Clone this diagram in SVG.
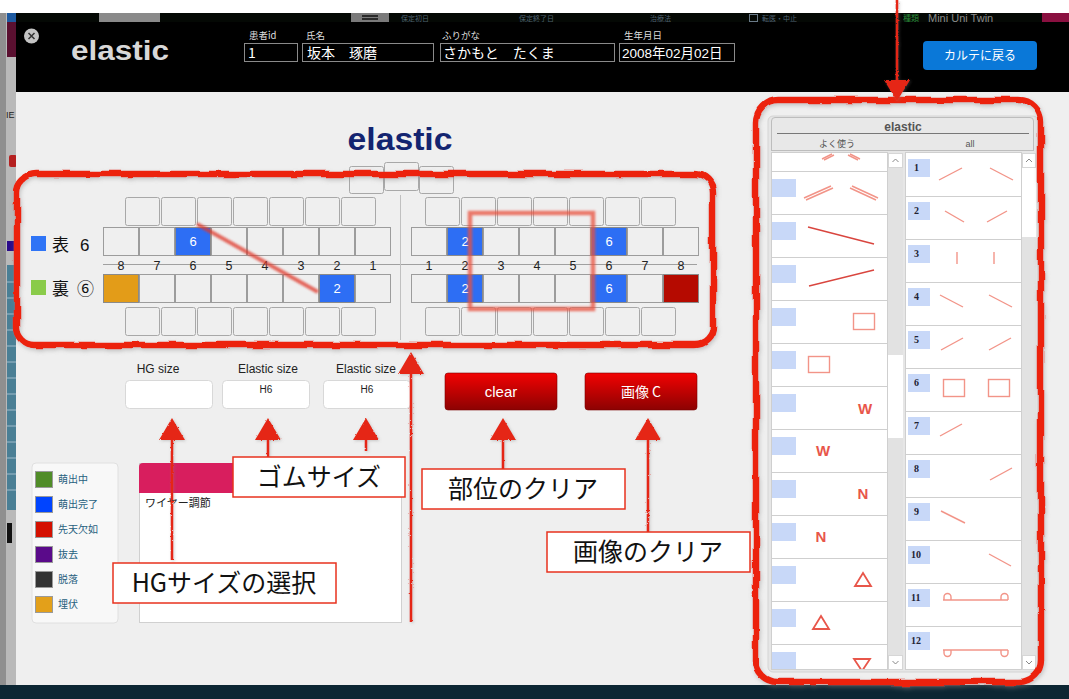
<svg xmlns="http://www.w3.org/2000/svg" width="1069" height="699" viewBox="0 0 1069 699">
<style>
.ui{font-family:"Liberation Sans","Noto Sans CJK JP",sans-serif}
.jp{font-family:"Noto Sans CJK JP","Liberation Sans",sans-serif}
.tb{fill:#efefef;stroke:#9c9c9c;stroke-width:1}
.ob{fill:#efefef;stroke:#a8a8a8;stroke-width:1}
.bl{fill:#2d6ef4;stroke:#8a8a8a;stroke-width:1}
.tn{font-family:"Liberation Sans",sans-serif;font-size:13px;fill:#fff;text-anchor:middle}
.num{font-family:"Liberation Sans",sans-serif;font-size:12.5px;fill:#222;text-anchor:middle}
.hl{font-family:"Noto Sans CJK JP",sans-serif;font-size:9.5px;fill:#ddd}
.fld{fill:#000;stroke:#8a8a8a;stroke-width:1}
.fv{font-family:"Noto Sans CJK JP","Liberation Sans",sans-serif;font-size:14px;fill:#fff}
.inp{fill:#fff;stroke:#d8d8d8;stroke-width:1}
.lbl{font-family:"Liberation Sans","Noto Sans",sans-serif;font-size:12px;fill:#222;text-anchor:middle}
.btn{fill:url(#redg);stroke:#7a0000;stroke-width:0.6}
.lg{font-family:"Noto Sans CJK JP",sans-serif;font-size:10px;fill:#27607e}
.note{fill:#fff;stroke:#e8321e;stroke-width:1.5}
.nt{font-family:"Noto Sans CJK JP",sans-serif;font-size:25px;fill:#111;text-anchor:middle}
.sep{stroke:#cfcfcf;stroke-width:1}
.sq{fill:#c8d8f8}
.pl{stroke:#f29488;stroke-width:1.4;fill:none}
.dl{stroke:#d9453e;stroke-width:1.4;fill:none}
.rn{font-family:"Liberation Serif",serif;font-weight:bold;font-size:10px;fill:#223}
.rl{font-family:"Liberation Sans",sans-serif;font-weight:bold;font-size:15px;fill:#e8564a;text-anchor:middle}
.tri{fill:none;stroke:#e8564a;stroke-width:1.8}
.ar{stroke:#e52814;stroke-width:2.6;fill:none}
.ah{fill:#e52814}
.rb{fill:none;stroke:#ec2410;stroke-width:6.5}
</style>
<defs>
<linearGradient id="redg" x1="0" y1="0" x2="0" y2="1">
<stop offset="0" stop-color="#f20202"/>
<stop offset="1" stop-color="#8c0202"/>
</linearGradient>
<filter id="rough" filterUnits="userSpaceOnUse" x="0" y="0" width="1069" height="699">
<feTurbulence type="fractalNoise" baseFrequency="0.04" numOctaves="2" seed="4" result="n"/>
<feDisplacementMap in="SourceGraphic" in2="n" scale="5" xChannelSelector="R" yChannelSelector="G" result="d"/>
<feGaussianBlur in="d" stdDeviation="2.2" result="b"/>
<feOffset in="b" dx="1" dy="2" result="o"/>
<feColorMatrix in="o" type="matrix" values="0 0 0 0 0.25 0 0 0 0 0.25 0 0 0 0 0.25 0 0 0 0.45 0" result="s"/>
<feMerge><feMergeNode in="s"/><feMergeNode in="d"/></feMerge>
</filter>
<filter id="thin" filterUnits="userSpaceOnUse" x="0" y="0" width="1069" height="699">
<feTurbulence type="fractalNoise" baseFrequency="0.6" numOctaves="1" seed="7" result="n"/>
<feDisplacementMap in="SourceGraphic" in2="n" scale="2.5" xChannelSelector="R" yChannelSelector="G" result="d"/>
<feGaussianBlur in="d" stdDeviation="1.6" result="b"/>
<feOffset in="b" dx="1" dy="1" result="o"/>
<feColorMatrix in="o" type="matrix" values="0 0 0 0 0.2 0 0 0 0 0.2 0 0 0 0 0.2 0 0 0 0.35 0" result="s"/>
<feMerge><feMergeNode in="s"/><feMergeNode in="d"/></feMerge>
</filter>
<filter id="soft" x="-10%" y="-10%" width="120%" height="120%">
<feGaussianBlur stdDeviation="0.8"/>
</filter>
<clipPath id="clipL"><rect x="772" y="153" width="116" height="516"/></clipPath>
<clipPath id="clipR"><rect x="906" y="153" width="116" height="516"/></clipPath>
</defs>

<!-- background app -->
<g id="background">
<rect x="0" y="0" width="1069" height="699" fill="#ffffff"/>
<rect x="0" y="13" width="16" height="672" fill="#b9b9b9"/>
<rect x="0" y="13" width="6" height="672" fill="#8f8f8f"/>
<rect x="7" y="13" width="9" height="9" fill="#1e5aa0"/>
<rect x="7" y="22" width="9" height="35" fill="#5a1030"/>
<text x="6" y="118" class="ui" font-size="9" fill="#222">IE</text>
<rect x="9" y="155" width="8" height="12" rx="2" fill="#b52020"/>
<rect x="7" y="241" width="9" height="10" fill="#2a0a8a"/>
<rect x="7" y="265" width="9" height="245" fill="#4a7f95"/>
<g stroke="#9fbccb" stroke-width="1">
<line x1="7" y1="282" x2="16" y2="282"/><line x1="7" y1="298" x2="16" y2="298"/><line x1="7" y1="314" x2="16" y2="314"/>
<line x1="7" y1="330" x2="16" y2="330"/><line x1="7" y1="346" x2="16" y2="346"/><line x1="7" y1="362" x2="16" y2="362"/>
<line x1="7" y1="378" x2="16" y2="378"/><line x1="7" y1="394" x2="16" y2="394"/><line x1="7" y1="410" x2="16" y2="410"/>
<line x1="7" y1="426" x2="16" y2="426"/><line x1="7" y1="442" x2="16" y2="442"/><line x1="7" y1="458" x2="16" y2="458"/>
<line x1="7" y1="474" x2="16" y2="474"/><line x1="7" y1="490" x2="16" y2="490"/>
</g>
<rect x="7" y="523" width="5" height="20" fill="#111"/>
<rect x="0" y="685" width="1069" height="14" fill="#0c2633"/>
<rect x="16" y="13" width="1053" height="9" fill="#040804"/>
<rect x="99" y="13" width="61" height="9" fill="#8a8a8a"/>
<rect x="351" y="13" width="38" height="9" fill="#7a7a7a"/>
<line x1="362" y1="16" x2="378" y2="16" stroke="#111" stroke-width="1.5"/>
<line x1="362" y1="19" x2="378" y2="19" stroke="#111" stroke-width="1.5"/>
<g class="jp" font-size="7" fill="#4f6272">
<text x="401" y="21">保定初日</text>
<text x="519" y="21">保定終了日</text>
<text x="650" y="21">治療法</text>
<text x="762" y="21">転医・中止</text>
</g>
<rect x="749.5" y="14.5" width="8" height="7" fill="none" stroke="#6a7a88" stroke-width="1"/>
<text x="903" y="21" class="jp" font-size="8" fill="#2a8a3a">種類</text>
<text x="928" y="22" class="ui" font-size="11" fill="#8a8a8a">Mini Uni Twin</text>
<rect x="1042" y="13" width="27" height="9" fill="#8a1040"/>
</g>

<!-- header -->
<g id="header">
<rect x="16" y="22" width="1053" height="70" fill="#000"/>
<circle cx="31.5" cy="36" r="7.5" fill="#c4c4c4"/>
<path d="M28.5 33 L34.5 39 M34.5 33 L28.5 39" stroke="#333" stroke-width="1.5"/>
<text x="71" y="60" class="ui" font-size="28" font-weight="bold" fill="#d8d8d8" textLength="98" lengthAdjust="spacingAndGlyphs">elastic</text>
<text x="249" y="39" class="hl">患者id</text>
<rect x="244.5" y="43.5" width="53" height="18" class="fld"/>
<text x="248" y="58" class="fv" font-size="13">1</text>
<text x="306" y="39" class="hl">氏名</text>
<rect x="302.5" y="43.5" width="131" height="18" class="fld"/>
<text x="307" y="58" class="fv">坂本　琢磨</text>
<text x="442" y="39" class="hl">ふりがな</text>
<rect x="440.5" y="43.5" width="174" height="18" class="fld"/>
<text x="443" y="58" class="fv">さかもと　たくま</text>
<text x="624" y="39" class="hl">生年月日</text>
<rect x="619.5" y="43.5" width="115" height="18" class="fld"/>
<text x="622" y="58" class="ui" font-size="13.5" fill="#fff">2008年02月02日</text>
</g>
<g id="btn-back">
<rect x="923" y="41" width="114" height="29" rx="4" fill="#0a78d8"/>
<text x="980" y="60" class="jp" font-size="12" fill="#fff" text-anchor="middle">カルテに戻る</text>
</g>

<!-- body -->
<rect x="16" y="92" width="1053" height="593" fill="#efefef"/>

<g id="title">
<text x="400" y="150" class="ui" font-size="31" font-weight="bold" fill="#132470" text-anchor="middle" textLength="105" lengthAdjust="spacingAndGlyphs">elastic</text>
<rect x="349.5" y="166.5" width="34" height="27" rx="2" class="ob"/>
<rect x="384.5" y="162.5" width="34" height="28" rx="2" class="ob"/>
<rect x="419.5" y="166.5" width="34" height="27" rx="2" class="ob"/>
</g>

<g id="tooth-chart">
<line x1="103" y1="264.5" x2="697" y2="264.5" stroke="#a0a0a0" stroke-width="1"/>
<line x1="400.5" y1="195" x2="400.5" y2="340" stroke="#c0c0c0" stroke-width="1"/>
<!-- left upper outer -->
<rect x="125.5" y="197.5" width="34" height="28" rx="2" class="ob"/>
<rect x="161.5" y="197.5" width="34" height="28" rx="2" class="ob"/>
<rect x="197.5" y="197.5" width="34" height="28" rx="2" class="ob"/>
<rect x="233.5" y="197.5" width="34" height="28" rx="2" class="ob"/>
<rect x="269.5" y="197.5" width="34" height="28" rx="2" class="ob"/>
<rect x="305.5" y="197.5" width="34" height="28" rx="2" class="ob"/>
<rect x="341.5" y="197.5" width="34" height="28" rx="2" class="ob"/>
<!-- left upper teeth -->
<rect x="103.5" y="227.5" width="35" height="28" class="tb"/>
<rect x="139.5" y="227.5" width="35" height="28" class="tb"/>
<rect x="175.5" y="227.5" width="35" height="28" class="bl"/>
<rect x="211.5" y="227.5" width="35" height="28" class="tb"/>
<rect x="247.5" y="227.5" width="35" height="28" class="tb"/>
<rect x="283.5" y="227.5" width="35" height="28" class="tb"/>
<rect x="319.5" y="227.5" width="35" height="28" class="tb"/>
<rect x="355.5" y="227.5" width="35" height="28" class="tb"/>
<text x="193" y="246" class="tn">6</text>
<!-- left lower teeth -->
<rect x="103.5" y="274.5" width="35" height="28" fill="#e39c18" stroke="#8a8a8a"/>
<rect x="139.5" y="274.5" width="35" height="28" class="tb"/>
<rect x="175.5" y="274.5" width="35" height="28" class="tb"/>
<rect x="211.5" y="274.5" width="35" height="28" class="tb"/>
<rect x="247.5" y="274.5" width="35" height="28" class="tb"/>
<rect x="283.5" y="274.5" width="35" height="28" class="tb"/>
<rect x="319.5" y="274.5" width="35" height="28" class="bl"/>
<rect x="355.5" y="274.5" width="35" height="28" class="tb"/>
<text x="337" y="293" class="tn">2</text>
<!-- left lower outer -->
<rect x="125.5" y="307.5" width="34" height="28" rx="2" class="ob"/>
<rect x="161.5" y="307.5" width="34" height="28" rx="2" class="ob"/>
<rect x="197.5" y="307.5" width="34" height="28" rx="2" class="ob"/>
<rect x="233.5" y="307.5" width="34" height="28" rx="2" class="ob"/>
<rect x="269.5" y="307.5" width="34" height="28" rx="2" class="ob"/>
<rect x="305.5" y="307.5" width="34" height="28" rx="2" class="ob"/>
<rect x="341.5" y="307.5" width="34" height="28" rx="2" class="ob"/>
<!-- left numbers -->
<text x="121" y="270" class="num">8</text>
<text x="157" y="270" class="num">7</text>
<text x="193" y="270" class="num">6</text>
<text x="229" y="270" class="num">5</text>
<text x="265" y="270" class="num">4</text>
<text x="301" y="270" class="num">3</text>
<text x="337" y="270" class="num">2</text>
<text x="373" y="270" class="num">1</text>
<!-- right upper outer -->
<rect x="425.5" y="197.5" width="34" height="28" rx="2" class="ob"/>
<rect x="461.5" y="197.5" width="34" height="28" rx="2" class="ob"/>
<rect x="497.5" y="197.5" width="34" height="28" rx="2" class="ob"/>
<rect x="533.5" y="197.5" width="34" height="28" rx="2" class="ob"/>
<rect x="569.5" y="197.5" width="34" height="28" rx="2" class="ob"/>
<rect x="605.5" y="197.5" width="34" height="28" rx="2" class="ob"/>
<rect x="641.5" y="197.5" width="34" height="28" rx="2" class="ob"/>
<!-- right upper teeth -->
<rect x="411.5" y="227.5" width="35" height="28" class="tb"/>
<rect x="447.5" y="227.5" width="35" height="28" class="bl"/>
<rect x="483.5" y="227.5" width="35" height="28" class="tb"/>
<rect x="519.5" y="227.5" width="35" height="28" class="tb"/>
<rect x="555.5" y="227.5" width="35" height="28" class="tb"/>
<rect x="591.5" y="227.5" width="35" height="28" class="bl"/>
<rect x="627.5" y="227.5" width="35" height="28" class="tb"/>
<rect x="663.5" y="227.5" width="35" height="28" class="tb"/>
<text x="465" y="246" class="tn">2</text>
<text x="609" y="246" class="tn">6</text>
<!-- right lower teeth -->
<rect x="411.5" y="274.5" width="35" height="28" class="tb"/>
<rect x="447.5" y="274.5" width="35" height="28" class="bl"/>
<rect x="483.5" y="274.5" width="35" height="28" class="tb"/>
<rect x="519.5" y="274.5" width="35" height="28" class="tb"/>
<rect x="555.5" y="274.5" width="35" height="28" class="tb"/>
<rect x="591.5" y="274.5" width="35" height="28" class="bl"/>
<rect x="627.5" y="274.5" width="35" height="28" class="tb"/>
<rect x="663.5" y="274.5" width="35" height="28" fill="#b50a00" stroke="#8a8a8a"/>
<text x="465" y="293" class="tn">2</text>
<text x="609" y="293" class="tn">6</text>
<!-- right lower outer -->
<rect x="425.5" y="307.5" width="34" height="28" rx="2" class="ob"/>
<rect x="461.5" y="307.5" width="34" height="28" rx="2" class="ob"/>
<rect x="497.5" y="307.5" width="34" height="28" rx="2" class="ob"/>
<rect x="533.5" y="307.5" width="34" height="28" rx="2" class="ob"/>
<rect x="569.5" y="307.5" width="34" height="28" rx="2" class="ob"/>
<rect x="605.5" y="307.5" width="34" height="28" rx="2" class="ob"/>
<rect x="641.5" y="307.5" width="34" height="28" rx="2" class="ob"/>
<!-- right numbers -->
<text x="429" y="270" class="num">1</text>
<text x="465" y="270" class="num">2</text>
<text x="501" y="270" class="num">3</text>
<text x="537" y="270" class="num">4</text>
<text x="573" y="270" class="num">5</text>
<text x="609" y="270" class="num">6</text>
<text x="645" y="270" class="num">7</text>
<text x="681" y="270" class="num">8</text>
<!-- elastic marks -->
<line x1="197" y1="224" x2="318" y2="292" stroke="#e0392b" stroke-width="4" opacity="0.75" filter="url(#soft)"/>
<rect x="470" y="213" width="123" height="96" fill="none" stroke="#e8503e" stroke-width="4.5" opacity="0.75" filter="url(#soft)"/>
</g>

<g id="side-legend">
<rect x="31" y="236" width="15" height="15" fill="#2f74f6"/>
<text x="52" y="251" class="jp" font-size="17" fill="#111">表</text>
<text x="80" y="251" class="ui" font-size="17" fill="#111">6</text>
<rect x="31" y="280" width="15" height="15" fill="#8acb4a"/>
<text x="52" y="295" class="jp" font-size="17" fill="#111">裏</text>
<text x="77" y="295" class="jp" font-size="17" fill="#111">⑥</text>
</g>

<g id="hg-size">
<text x="158" y="373" class="lbl">HG size</text>
<rect x="125.5" y="380.5" width="87" height="28" rx="4" class="inp"/>
</g>
<g id="elastic-size-1">
<text x="268" y="373" class="lbl">Elastic size</text>
<rect x="222.5" y="380.5" width="87" height="28" rx="4" class="inp"/>
<text x="266" y="393" class="ui" font-size="10" fill="#222" text-anchor="middle">H6</text>
</g>
<g id="elastic-size-2">
<text x="366" y="373" class="lbl">Elastic size</text>
<rect x="323.5" y="380.5" width="87" height="28" rx="4" class="inp"/>
<text x="367" y="393" class="ui" font-size="10" fill="#222" text-anchor="middle">H6</text>
</g>
<g id="btn-clear">
<rect x="445" y="373" width="112" height="37" rx="3" class="btn"/>
<text x="501" y="397" class="ui" font-size="15" fill="#fff" text-anchor="middle">clear</text>
</g>
<g id="btn-image-c">
<rect x="585" y="373" width="112" height="37" rx="3" class="btn"/>
<text x="641" y="397" class="jp" font-size="14" fill="#fff" text-anchor="middle">画像 C</text>
</g>

<g id="status-legend">
<rect x="32" y="463" width="86" height="160" rx="4" fill="#f8f8f8" stroke="#e0e0e0"/>
<rect x="35.5" y="471.5" width="17" height="16" fill="#508c28" stroke="#9a9a9a"/>
<text x="58" y="483" class="lg">萌出中</text>
<rect x="35.5" y="496.5" width="17" height="16" fill="#0044ff" stroke="#9a9a9a"/>
<text x="58" y="508" class="lg">萌出完了</text>
<rect x="35.5" y="521.5" width="17" height="16" fill="#d41000" stroke="#9a9a9a"/>
<text x="58" y="533" class="lg">先天欠如</text>
<rect x="35.5" y="546.5" width="17" height="16" fill="#5a0a8a" stroke="#9a9a9a"/>
<text x="58" y="558" class="lg">抜去</text>
<rect x="35.5" y="571.5" width="17" height="16" fill="#333333" stroke="#9a9a9a"/>
<text x="58" y="583" class="lg">脱落</text>
<rect x="35.5" y="596.5" width="17" height="16" fill="#e3a01a" stroke="#9a9a9a"/>
<text x="58" y="608" class="lg">埋伏</text>
</g>

<g id="wire-panel">
<rect x="139.5" y="463.5" width="262" height="159" fill="#fff" stroke="#d0d0d0"/>
<path d="M139 493 V467 Q139 463 143 463 H397 Q401 463 401 467 V493 Z" fill="#d81e5e"/>
<text x="145" y="507" class="jp" font-size="11" fill="#222">ワイヤー調節</text>
</g>

<!-- right elastic panel -->
<g id="elastic-panel">
<rect x="768" y="116" width="270" height="556" rx="5" fill="#e6e6e6" stroke="#d4d4d4"/>
<path d="M771.5 150 V121 Q771.5 117.5 775 117.5 H1030 Q1033.5 117.5 1033.5 121 V150" fill="#e8e8e8" stroke="#bdbdbd"/>
<text x="903" y="131" class="ui" font-size="12" font-weight="bold" fill="#555" text-anchor="middle">elastic</text>
<line x1="777" y1="133.5" x2="1029" y2="133.5" stroke="#777" stroke-width="1"/>
<text x="837" y="147" class="jp" font-size="9" fill="#555" text-anchor="middle">よく使う</text>
<text x="970" y="147" class="ui" font-size="9" fill="#555" text-anchor="middle">all</text>
<line x1="771" y1="150.5" x2="1034" y2="150.5" stroke="#bdbdbd"/>
</g>

<g id="list-frequent">
<rect x="771.5" y="152.5" width="116" height="517" fill="#fff" stroke="#cfcfcf"/>
<g clip-path="url(#clipL)">
<line x1="822" y1="159" x2="832" y2="154" class="pl"/>
<line x1="824" y1="160" x2="834" y2="155" class="pl"/>
<line x1="850" y1="154" x2="860" y2="159" class="pl"/>
<line x1="848" y1="155" x2="858" y2="160" class="pl"/>
</g>
<g class="sep">
<line x1="772" y1="171.5" x2="887" y2="171.5"/><line x1="772" y1="214.5" x2="887" y2="214.5"/>
<line x1="772" y1="257.5" x2="887" y2="257.5"/><line x1="772" y1="300.5" x2="887" y2="300.5"/>
<line x1="772" y1="343.5" x2="887" y2="343.5"/><line x1="772" y1="386.5" x2="887" y2="386.5"/>
<line x1="772" y1="429.5" x2="887" y2="429.5"/><line x1="772" y1="472.5" x2="887" y2="472.5"/>
<line x1="772" y1="515.5" x2="887" y2="515.5"/><line x1="772" y1="558.5" x2="887" y2="558.5"/>
<line x1="772" y1="601.5" x2="887" y2="601.5"/><line x1="772" y1="644.5" x2="887" y2="644.5"/>
</g>
<rect x="772" y="179" width="24" height="18" class="sq"/>
<rect x="772" y="222" width="24" height="18" class="sq"/>
<rect x="772" y="265" width="24" height="18" class="sq"/>
<rect x="772" y="308" width="24" height="18" class="sq"/>
<rect x="772" y="351" width="24" height="18" class="sq"/>
<rect x="772" y="394" width="24" height="18" class="sq"/>
<rect x="772" y="437" width="24" height="18" class="sq"/>
<rect x="772" y="480" width="24" height="18" class="sq"/>
<rect x="772" y="523" width="24" height="18" class="sq"/>
<rect x="772" y="566" width="24" height="18" class="sq"/>
<rect x="772" y="609" width="24" height="18" class="sq"/>
<rect x="772" y="652" width="24" height="17" class="sq"/>
<line x1="804" y1="198" x2="831" y2="186" class="pl"/>
<line x1="806" y1="200" x2="833" y2="188" class="pl"/>
<line x1="852" y1="186" x2="878" y2="198" class="pl"/>
<line x1="850" y1="188" x2="876" y2="200" class="pl"/>
<line x1="808" y1="227" x2="874" y2="244" class="dl"/>
<line x1="809" y1="286" x2="874" y2="270" class="dl"/>
<rect x="853.5" y="313.5" width="21" height="16" class="pl"/>
<rect x="808.5" y="356.5" width="21" height="16" class="pl"/>
<text x="865" y="414" class="rl">W</text>
<text x="823" y="456" class="rl">W</text>
<text x="863" y="499" class="rl">N</text>
<text x="821" y="542" class="rl">N</text>
<path d="M863 573 L871 586 H855 Z" class="tri"/>
<path d="M821 616 L829 629 H813 Z" class="tri"/>
<g clip-path="url(#clipL)">
<path d="M854 659 H870 L862 671 Z" class="tri"/>
</g>
<rect x="888" y="153" width="15" height="516" fill="#e2e2e2"/>
<rect x="888.5" y="153.5" width="14" height="14" fill="#fff" stroke="#d6d6d6"/>
<path d="M892.5 162 L895.5 159 L898.5 162" stroke="#888" stroke-width="1" fill="none"/>
<rect x="888" y="355" width="15" height="83" fill="#fff"/>
<rect x="888.5" y="655.5" width="14" height="14" fill="#fff" stroke="#d6d6d6"/>
<path d="M892.5 661 L895.5 664 L898.5 661" stroke="#888" stroke-width="1" fill="none"/>
</g>

<g id="list-all">
<rect x="905.5" y="152.5" width="116" height="517" fill="#fff" stroke="#cfcfcf"/>
<g class="sep">
<line x1="906" y1="196.5" x2="1021" y2="196.5"/><line x1="906" y1="239.5" x2="1021" y2="239.5"/>
<line x1="906" y1="282.5" x2="1021" y2="282.5"/><line x1="906" y1="325.5" x2="1021" y2="325.5"/>
<line x1="906" y1="368.5" x2="1021" y2="368.5"/><line x1="906" y1="411.5" x2="1021" y2="411.5"/>
<line x1="906" y1="454.5" x2="1021" y2="454.5"/><line x1="906" y1="497.5" x2="1021" y2="497.5"/>
<line x1="906" y1="540.5" x2="1021" y2="540.5"/><line x1="906" y1="583.5" x2="1021" y2="583.5"/>
<line x1="906" y1="626.5" x2="1021" y2="626.5"/>
</g>
<rect x="908" y="159" width="22" height="18" class="sq"/><text x="914" y="171" class="rn">1</text>
<rect x="908" y="202" width="22" height="18" class="sq"/><text x="914" y="214" class="rn">2</text>
<rect x="908" y="245" width="22" height="18" class="sq"/><text x="914" y="257" class="rn">3</text>
<rect x="908" y="288" width="22" height="18" class="sq"/><text x="914" y="300" class="rn">4</text>
<rect x="908" y="331" width="22" height="18" class="sq"/><text x="914" y="343" class="rn">5</text>
<rect x="908" y="374" width="22" height="18" class="sq"/><text x="914" y="386" class="rn">6</text>
<rect x="908" y="417" width="22" height="18" class="sq"/><text x="914" y="429" class="rn">7</text>
<rect x="908" y="460" width="22" height="18" class="sq"/><text x="914" y="472" class="rn">8</text>
<rect x="908" y="503" width="22" height="18" class="sq"/><text x="914" y="515" class="rn">9</text>
<rect x="908" y="546" width="22" height="18" class="sq"/><text x="911" y="558" class="rn">10</text>
<rect x="908" y="589" width="22" height="18" class="sq"/><text x="911" y="601" class="rn">11</text>
<rect x="908" y="632" width="22" height="18" class="sq"/><text x="911" y="644" class="rn">12</text>
<line x1="939" y1="180" x2="962" y2="168" class="pl"/>
<line x1="990" y1="168" x2="1013" y2="180" class="pl"/>
<line x1="945" y1="211" x2="964" y2="222" class="pl"/>
<line x1="987" y1="222" x2="1007" y2="211" class="pl"/>
<line x1="957" y1="252" x2="957" y2="264" class="pl"/>
<line x1="994" y1="252" x2="994" y2="264" class="pl"/>
<line x1="940" y1="295" x2="963" y2="307" class="pl"/>
<line x1="989" y1="295" x2="1012" y2="307" class="pl"/>
<line x1="941" y1="350" x2="963" y2="338" class="pl"/>
<line x1="989" y1="350" x2="1011" y2="338" class="pl"/>
<rect x="943.5" y="379.5" width="21" height="17" class="pl"/>
<rect x="988.5" y="379.5" width="21" height="17" class="pl"/>
<line x1="940" y1="436" x2="962" y2="424" class="pl"/>
<line x1="990" y1="480" x2="1012" y2="468" class="pl"/>
<line x1="941" y1="511" x2="965" y2="523" class="pl"/>
<line x1="989" y1="554" x2="1011" y2="566" class="pl"/>
<line x1="943" y1="600" x2="1008" y2="600" class="pl"/>
<path d="M944 600 V597 A3.5 3.5 0 0 1 951 597 V600 M1001 600 V597 A3.5 3.5 0 0 1 1008 597 V600" class="pl"/>
<line x1="943" y1="650" x2="1008" y2="650" class="pl"/>
<path d="M944 650 V653 A3.5 3.5 0 0 0 951 653 V650 M1001 650 V653 A3.5 3.5 0 0 0 1008 653 V650" class="pl"/>
<rect x="1022" y="153" width="14" height="516" fill="#e2e2e2"/>
<rect x="1022" y="167" width="14" height="70" fill="#fff"/>
<rect x="1022.5" y="153.5" width="13" height="14" fill="#fff" stroke="#d6d6d6"/>
<path d="M1026 162 L1029 159 L1032 162" stroke="#888" stroke-width="1" fill="none"/>
<rect x="1022.5" y="655.5" width="13" height="14" fill="#fff" stroke="#d6d6d6"/>
<path d="M1026 661 L1029 664 L1032 661" stroke="#888" stroke-width="1" fill="none"/>
</g>

<!-- connectors / annotations -->
<g id="connectors">
<g filter="url(#rough)">
<rect x="17" y="174" width="696" height="171" rx="18" class="rb"/>
<rect x="756" y="100" width="285" height="582" rx="22" class="rb"/>
</g>
<g filter="url(#thin)">
<line x1="897" y1="0" x2="897" y2="84" class="ar"/>
<path d="M884 80 L910 80 L897 101 Z" class="ah"/>
<line x1="411" y1="370" x2="411" y2="622" class="ar"/>
<path d="M398 374 L424 374 L411 352 Z" class="ah"/>
<line x1="172" y1="436" x2="172" y2="560" class="ar"/>
<path d="M159 440 L185 440 L172 418 Z" class="ah"/>
<line x1="268" y1="436" x2="268" y2="457" class="ar"/>
<path d="M255 440 L281 440 L268 418 Z" class="ah"/>
<line x1="366" y1="436" x2="366" y2="451" class="ar"/>
<path d="M353 440 L379 440 L366 418 Z" class="ah"/>
<line x1="503" y1="436" x2="503" y2="469" class="ar"/>
<path d="M490 440 L516 440 L503 418 Z" class="ah"/>
<line x1="648" y1="436" x2="648" y2="532" class="ar"/>
<path d="M635 440 L661 440 L648 418 Z" class="ah"/>
</g>
</g>

<g id="note-gom">
<rect x="233" y="457" width="172" height="40" class="note"/>
<text x="319" y="486" class="nt">ゴムサイズ</text>
</g>
<g id="note-hg">
<rect x="113" y="563" width="223" height="40" class="note"/>
<text x="224" y="592" class="nt">HGサイズの選択</text>
</g>
<g id="note-clear">
<rect x="422" y="469" width="203" height="40" class="note"/>
<text x="523" y="498" class="nt">部位のクリア</text>
</g>
<g id="note-image-clear">
<rect x="547" y="532" width="203" height="40" class="note"/>
<text x="648" y="561" class="nt">画像のクリア</text>
</g>
</svg>
